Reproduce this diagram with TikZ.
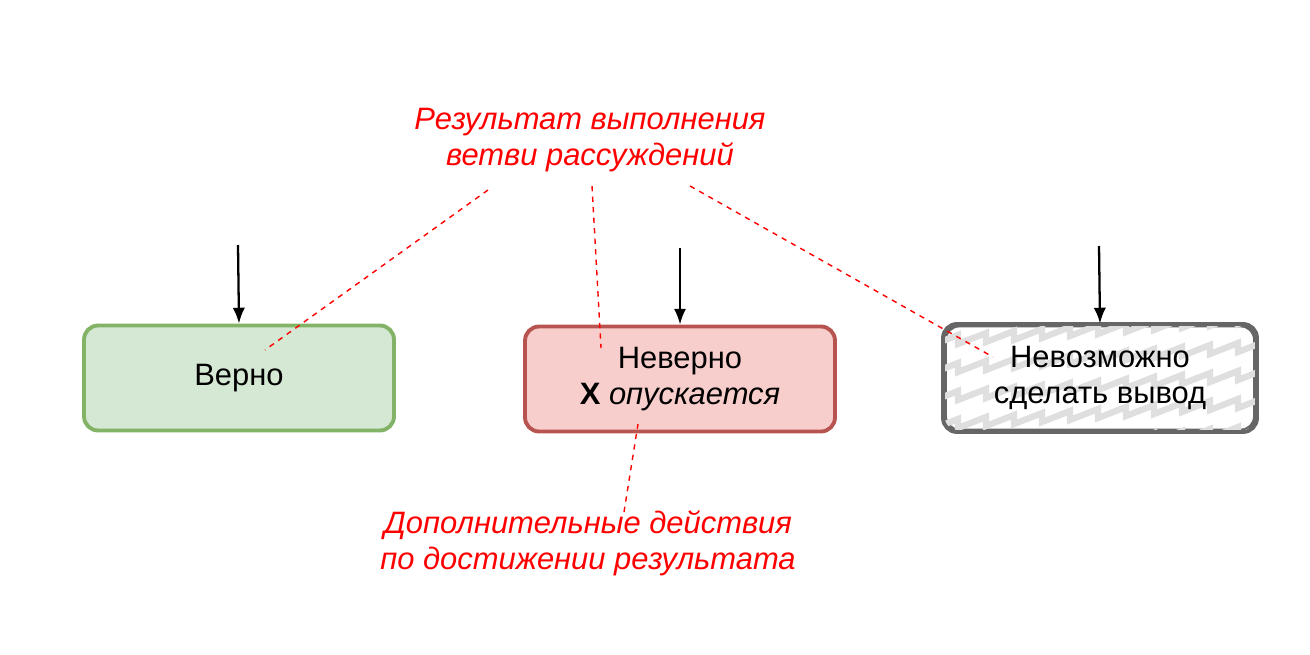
\documentclass[tikz,border=0pt]{standalone}
\usepackage{fontspec}
\setmainfont{Liberation Sans}
\usetikzlibrary{positioning,arrows.meta}
\definecolor{okfill}{HTML}{D5E8D4}
\definecolor{okline}{HTML}{82B366}
\definecolor{badfill}{HTML}{F8CECC}
\definecolor{badline}{HTML}{B85450}
\definecolor{noline}{HTML}{666666}
\begin{document}
\begin{tikzpicture}[x=0.02cm,y=-0.02cm,
  every node/.style={font=\fontsize{17.6}{20.5}\selectfont, align=center},
  resbox/.style={draw, line width=2.2pt, rounded corners=0.28cm, minimum width=6.2cm, minimum height=2.1cm},
  note/.style={text=red, font=\fontsize{17.6}{20.5}\selectfont\itshape},
  callout/.style={red, dashed, thick},
  feed/.style={-{Latex[length=9pt,width=7pt]}, line width=1.3pt}]
\useasboundingbox (0,0) rectangle (1310,655);
% Result boxes
\node[resbox, draw=okline, fill=okfill] (ok) at (239,378) {Верно};
\node[resbox, draw=badline, fill=badfill] (bad) at (680,379) {Неверно\\\textbf{X} \textit{опускается}};
\node[resbox, draw=noline] (none) at (1100,378) {\phantom{Невозможно}\\\phantom{сделать вывод}};
% Zigzag fill of the third box
\begin{scope}
\clip[rounded corners=0.28cm] (943,324) rectangle (1257,432);
\foreach \k in {0,...,5}
  \draw[gray!25, line width=3.6pt, line join=miter]
    (930,{318+\k*28}) \foreach \j in {1,...,12} { -- ++(28,-11) -- ++(0,9) } ;
\end{scope}
\draw[noline, line width=2.2pt, rounded corners=0.28cm] (943,324) rectangle (1257,432);
\node at (none) {Невозможно\\сделать вывод};
% Incoming arrows
\coordinate (ok in) at (238,245);
\coordinate (bad in) at (680,248);
\coordinate (none in) at (1099,246);
\draw[feed] (ok in) -- (ok.north);
\draw[feed] (bad in) -- (bad.north);
\draw[feed] (none in) -- (none.north);
% Notes
\node[note] (result) at (590,140) {Результат выполнения\\ветви рассуждений};
\node[note] (extra) at (588,543) {Дополнительные действия\\по достижении результата};
\coordinate (r1) at (488,190);
\coordinate (r2) at (592,186);
\coordinate (r3) at (690,186);
\coordinate (e1) at (624,512);
\coordinate (t1) at (265,350);
\coordinate (t2) at (601,348);
\coordinate (t3) at (993,357);
\coordinate (t4) at (638,424);
\draw[callout] (r1) -- (t1);
\draw[callout] (r2) -- (t2);
\draw[callout] (r3) -- (t3);
\draw[callout] (e1) -- (t4);
\end{tikzpicture}
\end{document}
